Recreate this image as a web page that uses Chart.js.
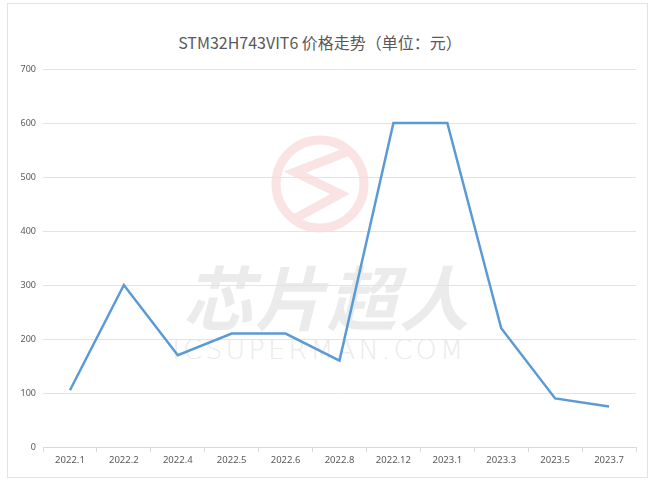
<!DOCTYPE html>
<html><head><meta charset="utf-8">
<script src="https://cdn.jsdelivr.net/npm/chart.js@4"></script>
<style>
html,body{margin:0;padding:0;background:#fff;}
#wrap{position:relative;width:655px;height:482px;overflow:hidden;}
#frame{position:absolute;left:7px;top:3px;width:639px;height:473px;border:1px solid #e3e3e3;}
#title{position:absolute;left:0;width:640px;top:30px;text-align:center;font-family:"Noto Sans CJK SC","Noto Sans",sans-serif;font-size:16px;color:#595959;}
#wm{position:absolute;left:0;top:0;width:655px;height:482px;}
#wmcn{position:absolute;left:183px;top:245px;width:300px;font-family:"Noto Sans CJK SC",sans-serif;font-weight:bold;font-style:italic;font-size:70px;letter-spacing:2px;color:#ebebeb;line-height:100px;white-space:nowrap;}
#wmen{position:absolute;left:172px;top:334px;font-family:"DejaVu Sans",sans-serif;font-weight:300;font-size:27px;letter-spacing:3.2px;color:#ebebeb;white-space:nowrap;}
canvas{position:absolute;left:0;top:0;}
</style></head>
<body><div id="wrap">
<div id="frame"></div>
<div id="wm">
<svg width="655" height="482" style="position:absolute;left:0;top:0">
<circle cx="320" cy="184" r="44" fill="none" stroke="#f9e3e3" stroke-width="9"/>
<polyline points="352,150 295,172 340,194 296,218" fill="none" stroke="#f9e3e3" stroke-width="9" stroke-linejoin="miter"/>
</svg>
<div id="wmcn">芯片超人</div>
<div id="wmen">ICSUPERMAN.COM</div>
</div>
<div id="title">STM32H743VIT6 价格走势（单位：元）</div>
<canvas id="c" width="655" height="482"></canvas>
</div>
<script>
const categories = ["2022.1","2022.2","2022.4","2022.5","2022.6","2022.8","2022.12","2023.1","2023.3","2023.5","2023.7"];
const prices = [105,300,170,210,210,160,600,600,220,90,75];
const yTicks = [0,100,200,300,400,500,600,700];

new Chart(document.getElementById('c'), {
  type: 'line',
  data: { labels: categories, datasets: [{ data: prices, borderColor: '#5b9bd5', borderWidth: 2.5, pointRadius: 0, tension: 0, fill: false }] },
  options: {
    responsive: false, animation: false,
    layout: { padding: { top: 69, right: 19, bottom: 0, left: 0 } },
    plugins: { legend: { display: false }, title: { display: false }, tooltip: { enabled: false } },
    scales: {
      x: {
        offset: true,
        grid: { offset: true, drawOnChartArea: false, drawTicks: true, tickLength: 5, color: '#d9d9d9' },
        border: { color: '#d9d9d9' },
        ticks: { color: '#595959', font: { family: 'Noto Sans', size: 9.5 }, padding: 3, maxRotation: 0, autoSkip: false },
        afterFit: s => { s.height = 35; }
      },
      y: {
        min: 0, max: 700,
        afterBuildTicks: s => { s.ticks = yTicks.map(v => ({ value: v })); },
        grid: { color: '#e3e3e3', drawTicks: false },
        border: { display: false },
        ticks: { color: '#595959', font: { family: 'Noto Sans', size: 9 }, padding: 7 },
        afterFit: s => { s.width = 43; }
      }
    }
  }
});
</script>
</body></html>
